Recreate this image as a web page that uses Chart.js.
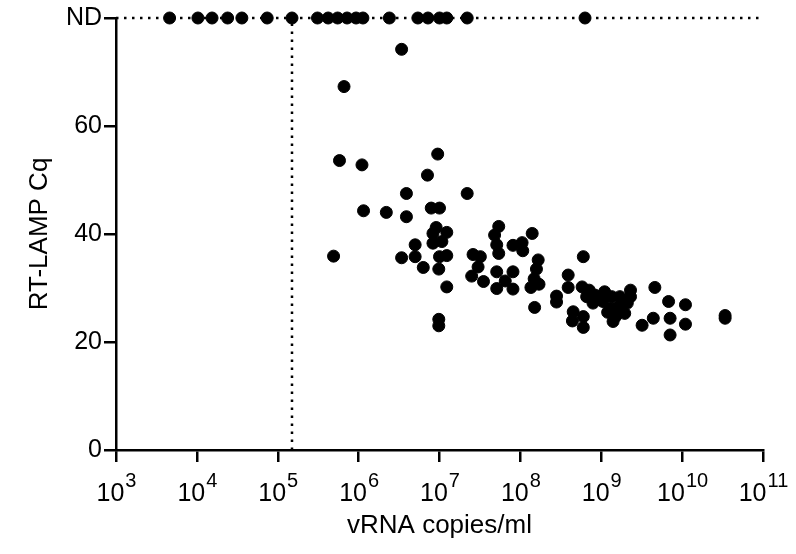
<!DOCTYPE html>
<html>
<head>
<meta charset="utf-8">
<script src="https://cdn.jsdelivr.net/npm/chart.js@4/dist/chart.umd.min.js"></script>
<style>
  html, body { margin: 0; padding: 0; background: #fff; }
  #wrap { width: 796px; height: 554px; position: relative; }
</style>
</head>
<body>
<div id="wrap"><canvas id="lampChart"></canvas></div>
<script>
// samples with a measured Cq
const detectedCopies = [
  3.4e6, 6.6e5, 5.8e5, 1.1e6, 9.5e6, 7.1e6, 3.9e6, 2.2e7, 1.15e6, 2.2e6,
  3.9e6, 7.9e6, 1.0e7, 9.1e6, 1.23e7, 8.3e6, 8.3e6, 1.07e7, 5.0e6, 4.9e5,
  3.4e6, 5.0e6, 6.3e6, 1.0e7, 1.23e7, 9.8e6, 1.23e7, 9.8e6, 9.8e6, 2.6e7,
  3.2e7, 3.0e7, 2.5e7, 3.5e7, 5.4e7, 4.8e7, 5.1e7, 5.4e7, 8.1e7, 1.05e8,
  1.07e8, 1.4e8, 5.1e7, 8.1e7, 6.5e7, 5.1e7, 8.1e7, 1.66e8, 1.58e8, 1.48e8,
  1.35e8, 1.7e8, 1.5e8, 2.8e8, 2.8e8, 3.9e8, 3.9e8, 4.5e8, 4.4e8, 6.0e8,
  5.8e8, 6.0e8, 6.0e8, 6.6e8, 8.3e8, 7.9e8, 1.1e9, 1.05e9, 1.35e9, 1.3e9,
  1.7e9, 1.6e9, 1.5e9, 1.4e9, 1.85e9, 1.95e9, 2.3e9, 2.3e9, 2.1e9, 4.6e9,
  6.8e9, 1.1e10, 4.4e9, 3.2e9, 7.1e9, 7.1e9, 1.1e10, 3.4e10, 3.4e10, 9.3e8,
  1.2e9, 7.1e8
];
const detectedCq = [
  74.2, 67.3, 53.6, 52.8, 54.8, 50.9, 47.5, 47.5, 44.3, 44.0,
  43.2, 44.8, 44.8, 41.2, 40.3, 40.1, 38.3, 38.6, 38.0, 35.9,
  35.6, 35.8, 33.8, 35.8, 36.0, 33.5, 30.2, 24.2, 23.0, 36.2,
  35.8, 33.9, 32.2, 31.2, 41.4, 39.8, 38.0, 36.4, 37.9, 38.4,
  36.9, 40.1, 33.0, 33.0, 31.3, 29.9, 29.8, 35.2, 33.5, 31.7,
  30.1, 30.7, 26.4, 28.5, 27.4, 32.4, 30.1, 25.6, 23.9, 35.8,
  30.2, 24.7, 22.7, 28.4, 28.7, 27.2, 29.3, 27.5, 28.4, 26.2,
  28.4, 26.5, 24.7, 23.8, 27.2, 25.3, 29.6, 28.4, 27.2, 30.1,
  27.5, 26.9, 24.4, 23.1, 24.4, 21.3, 23.3, 24.4, 24.9, 28.0,
  25.5, 29.6
];
// samples with no detection, plotted on the ND row
const notDetectedCopies = [
  4.6e3, 1.03e4, 1.54e4, 2.4e4, 3.6e4, 7.4e4, 1.5e5, 3.1e5, 4.2e5, 5.5e5,
  7.2e5, 9.3e5, 1.13e6, 2.4e6, 5.4e6, 7.2e6, 1.0e7, 1.23e7, 2.2e7, 6.3e8
];
const ndLevel = 80;
const cutoffCopies = 1.5e5;
const yTickValues = [0, 20, 40, 60, 80];
const yTickLabels = ['0', '20', '40', '60', 'ND'];
const xTickExponents = [3, 4, 5, 6, 7, 8, 9, 10, 11];

const FONT = 'Liberation Sans, Arial, sans-serif';

// draws 10^n labels with a raised exponent under each decade tick
const powerLabels = {
  id: 'powerLabels',
  afterDraw(chart) {
    const x = chart.scales.x;
    const c = chart.ctx;
    c.save();
    c.fillStyle = '#000';
    c.textBaseline = 'alphabetic';
    xTickExponents.forEach(e => {
      const px = x.getPixelForValue(Math.pow(10, e));
      c.font = '25px ' + FONT;
      const wBase = c.measureText('10').width;
      c.font = '20px ' + FONT;
      const wExp = c.measureText(String(e)).width;
      const left = px - (wBase + wExp) / 2;
      c.font = '25px ' + FONT;
      c.fillText('10', left, 501);
      c.font = '20px ' + FONT;
      c.fillText(String(e), left + wBase + 1, 487);
    });
    c.restore();
  }
};

const ctx = document.getElementById('lampChart').getContext('2d');

const lampChart = new Chart(ctx, {
  type: 'scatter',
  data: {
    datasets: [
      {
        type: 'line',
        data: [{x: 1e3, y: ndLevel}, {x: 1e11, y: ndLevel}],
        borderColor: '#000',
        borderWidth: 2.5,
        borderDash: [2.5, 5.5],
        pointRadius: 0,
        clip: false
      },
      {
        type: 'line',
        data: [{x: cutoffCopies, y: 0}, {x: cutoffCopies, y: ndLevel}],
        borderColor: '#000',
        borderWidth: 2.5,
        borderDash: [2.5, 5.5],
        pointRadius: 0,
        clip: false
      },
      {
        data: notDetectedCopies.map(v => ({x: v, y: ndLevel})),
        backgroundColor: '#000',
        borderColor: '#000',
        pointRadius: 6,
        clip: false
      },
      {
        data: detectedCopies.map((v, i) => ({x: v, y: detectedCq[i]})),
        backgroundColor: '#000',
        borderColor: '#000',
        pointRadius: 6,
        clip: false
      }
    ]
  },
  options: {
    responsive: true,
    maintainAspectRatio: false,
    animation: false,
    layout: { padding: { top: 18, right: 33, left: 0, bottom: 0 } },
    plugins: {
      legend: { display: false },
      tooltip: { enabled: false }
    },
    scales: {
      x: {
        type: 'logarithmic',
        min: 1e3,
        max: 1e11,
        afterBuildTicks: s => { s.ticks = xTickExponents.map(e => ({value: Math.pow(10, e)})); },
        afterFit: s => { s.height = 104; },
        border: { display: true, color: '#000', width: 2.5 },
        grid: { display: true, drawOnChartArea: false, drawTicks: true, tickLength: 12, color: '#000', lineWidth: 2.5 },
        ticks: { callback: () => '', autoSkip: false, maxRotation: 0 },
        title: {
          display: true,
          text: 'vRNA copies/ml',
          color: '#000',
          font: { family: FONT, size: 26 },
          padding: { top: 0, bottom: 13 }
        }
      },
      y: {
        min: 0,
        max: ndLevel,
        afterBuildTicks: s => { s.ticks = yTickValues.map(v => ({value: v})); },
        afterFit: s => { s.width = 116; },
        border: { display: true, color: '#000', width: 2.5 },
        grid: { display: true, drawOnChartArea: false, drawTicks: true, tickLength: 12, color: '#000', lineWidth: 2.5 },
        ticks: {
          color: '#000',
          padding: 2,
          font: { family: FONT, size: 25 },
          callback: v => yTickLabels[yTickValues.indexOf(v)]
        },
        title: {
          display: true,
          text: 'RT-LAMP Cq',
          color: '#000',
          font: { family: FONT, size: 26 },
          padding: { top: 24, bottom: 24 }
        }
      }
    }
  },
  plugins: [powerLabels]
});
</script>
</body>
</html>
